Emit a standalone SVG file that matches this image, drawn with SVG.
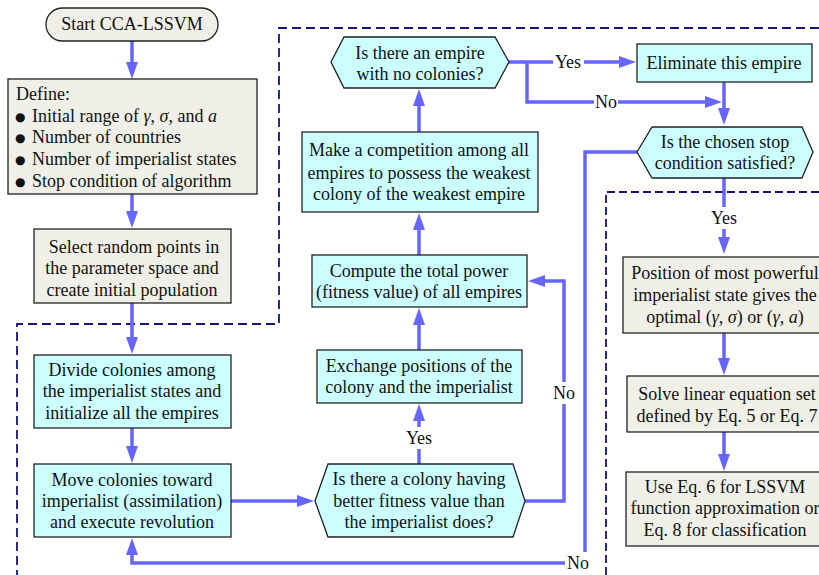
<svg xmlns="http://www.w3.org/2000/svg" width="819" height="575" viewBox="0 0 819 575">
<style>
text{font-family:"Liberation Serif","Times New Roman",serif;font-size:18px;fill:#111}
.c{text-anchor:middle}
.i{font-style:italic}
.cy{fill:#ccffff;stroke:#222;stroke-width:1.3}
.bg{fill:#f0f0e8;stroke:#222;stroke-width:1.3}
.con path{fill:none;stroke:#6666ff;stroke-width:3.5}
.con path.a{marker-end:url(#ah)}
.dash{fill:none;stroke:#14147a;stroke-width:1.8;stroke-dasharray:9 5}
.lb{fill:#fff}
.bul{font-family:"DejaVu Sans",sans-serif;font-size:12px}
</style>
<defs>
<marker id="ah" markerUnits="userSpaceOnUse" markerWidth="17" markerHeight="12" refX="9" refY="6" orient="auto">
<path d="M0,0 L17,6 L0,12 z" fill="#6666ff"/>
</marker>
</defs>
<rect width="819" height="575" fill="#fff"/>
<g id="regions">
<path class="dash" d="M819,28 H279 V324 H17 V575"/>
<path class="dash" d="M819,192 H606 V575" style="stroke-dasharray:8 4"/>
</g>
<g class="con" id="connectors">
<path class="a" d="M132,41 V71"/>
<path class="a" d="M132,194 V220"/>
<path class="a" d="M132,303 V346"/>
<path class="a" d="M132,428 V455"/>
<path class="a" d="M231,501 H306"/>
<path class="a" d="M419,464 V412"/>
<path class="a" d="M419,350 V316"/>
<path class="a" d="M525,501 H564 V281 H536"/>
<path class="a" d="M419,255 V221"/>
<path class="a" d="M419,132 V97"/>
<path class="a" d="M509,62 H628"/>
<path class="a" d="M527,62 V102 H714"/>
<path class="a" d="M724,82 V117"/>
<path class="a" d="M637,152 H585 V563 H132 V546"/>
<path class="a" d="M724,178 V246"/>
<path class="a" d="M724,333 V367"/>
<path class="a" d="M724,432 V463"/>
<rect class="lb" x="405" y="427" width="28" height="22"/>
<text class="c" x="419" y="444">Yes</text>
<rect class="lb" x="552" y="382" width="24" height="22"/>
<text class="c" x="564" y="399">No</text>
<rect class="lb" x="553" y="51" width="31" height="22"/>
<text class="c" x="568" y="68">Yes</text>
<rect class="lb" x="594" y="91" width="24" height="22"/>
<text class="c" x="606" y="108">No</text>
<rect class="lb" x="565" y="552" width="26" height="22"/>
<text class="c" x="578" y="569">No</text>
<rect class="lb" x="709" y="207" width="30" height="22"/>
<text class="c" x="724" y="224">Yes</text>
</g>
<g id="start">
<rect x="46" y="8" width="172" height="33" rx="16.5" class="bg"/>
<text class="c" x="132" y="30">Start CCA-LSSVM</text>
</g>
<g id="define">
<rect x="8" y="79" width="249" height="115" class="bg"/>
<text x="16" y="100">Define:</text>
<text class="bul" x="15" y="121">●</text>
<text x="32" y="122">Initial range of <tspan class="i">γ</tspan>, <tspan class="i">σ</tspan>, and <tspan class="i">a</tspan></text>
<text class="bul" x="15" y="142">●</text>
<text x="32" y="143">Number of countries</text>
<text class="bul" x="15" y="164">●</text>
<text x="32" y="165">Number of imperialist states</text>
<text class="bul" x="15" y="186">●</text>
<text x="32" y="187">Stop condition of algorithm</text>
</g>
<g id="select">
<rect x="34" y="229" width="197" height="74" class="bg"/>
<text class="c" x="134" y="253">Select random points in</text>
<text class="c" x="132" y="274">the parameter space and</text>
<text class="c" x="132" y="296">create initial population</text>
</g>
<g id="divide">
<rect x="34" y="355" width="197" height="73" class="cy"/>
<text class="c" x="132" y="376">Divide colonies among</text>
<text class="c" x="132" y="397">the imperialist states and</text>
<text class="c" x="132" y="419">initialize all the empires</text>
</g>
<g id="move">
<rect x="34" y="464" width="197" height="73" class="cy"/>
<text class="c" x="132" y="486">Move colonies toward</text>
<text class="c" x="132" y="507">imperialist (assimilation)</text>
<text class="c" x="132" y="528">and execute revolution</text>
</g>
<g id="colony-check">
<polygon points="315,501 328,464 513,464 525,501 513,537 328,537" class="cy"/>
<text class="c" x="419" y="485">Is there a colony having</text>
<text class="c" x="419" y="507">better fitness value than</text>
<text class="c" x="419" y="528">the imperialist does?</text>
</g>
<g id="exchange">
<rect x="317" y="350" width="205" height="53" class="cy"/>
<text class="c" x="419" y="372">Exchange positions of the</text>
<text class="c" x="419" y="393">colony and the imperialist</text>
</g>
<g id="compute">
<rect x="312" y="255" width="215" height="52" class="cy"/>
<text class="c" x="419" y="277">Compute the total power</text>
<text class="c" x="419" y="298">(fitness value) of all empires</text>
</g>
<g id="competition">
<rect x="302" y="132" width="236" height="80" class="cy"/>
<text class="c" x="419" y="156">Make a competition among all</text>
<text class="c" x="419" y="179">empires to possess the weakest</text>
<text class="c" x="419" y="200">colony of the weakest empire</text>
</g>
<g id="empire-check">
<polygon points="331,62 344,37 495,37 509,62 495,88 344,88" class="cy"/>
<text class="c" x="420" y="59">Is there an empire</text>
<text class="c" x="420" y="80">with no colonies?</text>
</g>
<g id="eliminate">
<rect x="637" y="44" width="175" height="38" class="cy"/>
<text class="c" x="724" y="69">Eliminate this empire</text>
</g>
<g id="stop-check">
<polygon points="637,152 652,127 802,127 813,152 802,178 652,178" class="cy"/>
<text class="c" x="725" y="148">Is the chosen stop</text>
<text class="c" x="725" y="169">condition satisfied?</text>
</g>
<g id="position">
<rect x="623" y="257" width="210" height="76" class="bg"/>
<text class="c" x="725" y="279">Position of most powerful</text>
<text class="c" x="725" y="301">imperialist state gives the</text>
<text class="c" x="725" y="323">optimal (<tspan class="i">γ</tspan>, <tspan class="i">σ</tspan>) or (<tspan class="i">γ</tspan>, <tspan class="i">a</tspan>)</text>
</g>
<g id="solve">
<rect x="627" y="376" width="210" height="56" class="bg"/>
<text class="c" x="727" y="400">Solve linear equation set</text>
<text class="c" x="727" y="422">defined by Eq. 5 or Eq. 7</text>
</g>
<g id="use">
<rect x="626" y="472" width="210" height="74" class="bg"/>
<text class="c" x="725" y="493">Use Eq. 6 for LSSVM</text>
<text class="c" x="725" y="514">function approximation or</text>
<text class="c" x="725" y="536">Eq. 8 for classification</text>
</g>
</svg>
